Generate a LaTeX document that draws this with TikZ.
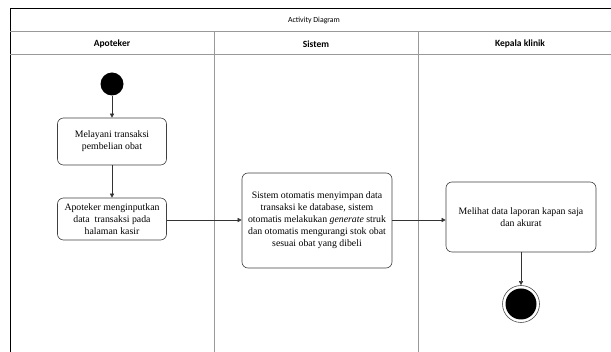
\documentclass[tikz,border=0pt]{standalone}
\usepackage{fontspec}
\setmainfont{Liberation Serif}
\newfontfamily\hdr{Carlito}
\usetikzlibrary{arrows.meta}
\begin{document}
\begin{tikzpicture}[x=1pt,y=-1pt,
  act/.style={draw=black!75,rounded corners=6pt,fill=white,align=center,inner sep=1pt,
    font=\fontsize{9.8}{12}\selectfont,line width=0.6pt},
  flow/.style={draw=black!80,line width=0.5pt,-{Triangle[length=4pt,width=4pt]}},
  lane/.style={draw=black!40,line width=1pt},
  hd/.style={font=\hdr\bfseries\fontsize{9.5}{11}\selectfont}]
\useasboundingbox (0,0) rectangle (611,352);
\begin{scope}
\clip (0,0) rectangle (611,352);
% frame
\draw[black,line width=0.8pt] (10,352) -- (10,8) -- (620,8);
\draw[lane] (10,32) -- (620,32);
\draw[lane] (10,55) -- (620,55);
\draw[lane] (214,32) -- (214,360);
\draw[lane] (418,32) -- (418,360);
\end{scope}
\node[font=\hdr\fontsize{7.8}{9}\selectfont] (title) at (314,20) {Activity Diagram};
\node[hd] (h1) at (112,44) {Apoteker};
\node[hd] (h2) at (316,44) {Sistem};
\node[hd] (h3) at (520,44) {Kepala klinik};
% nodes
\node[circle,fill=black,minimum size=23pt,inner sep=0pt] (start) at (112,84) {};
\node[act,minimum width=109pt,minimum height=47pt] (a1) at (112,141.5) {Melayani transaksi\\pembelian obat};
\node[act,minimum width=109pt,minimum height=42pt] (a2) at (112,219) {Apoteker menginputkan\\data\ \ transaksi pada\\halaman kasir};
\node[act,minimum width=150pt,minimum height=95pt] (a3) at (317,220.5) {Sistem otomatis menyimpan data\\transaksi ke database, sistem\\otomatis melakukan \textit{generate} struk\\dan otomatis mengurangi stok obat\\sesuai obat yang dibeli};
\node[act,minimum width=150pt,minimum height=70pt] (a4) at (521,217) {Melihat data laporan kapan saja\\dan akurat};
\node[circle,draw=black!70,line width=0.6pt,fill=white,minimum size=37pt,inner sep=0pt] (endo) at (521,304) {};
\node[circle,fill=black,minimum size=31pt,inner sep=0pt] (endi) at (endo) {};
% flows
\draw[flow] (start) -- (a1);
\draw[flow] (a1) -- (a2);
\draw[flow] (a2.east |- 0,220) -- (a3.west |- 0,220);
\draw[flow] (a3.east |- 0,220) -- (a4.west |- 0,220);
\draw[flow] (a4) -- (endo);
\end{tikzpicture}
\end{document}
